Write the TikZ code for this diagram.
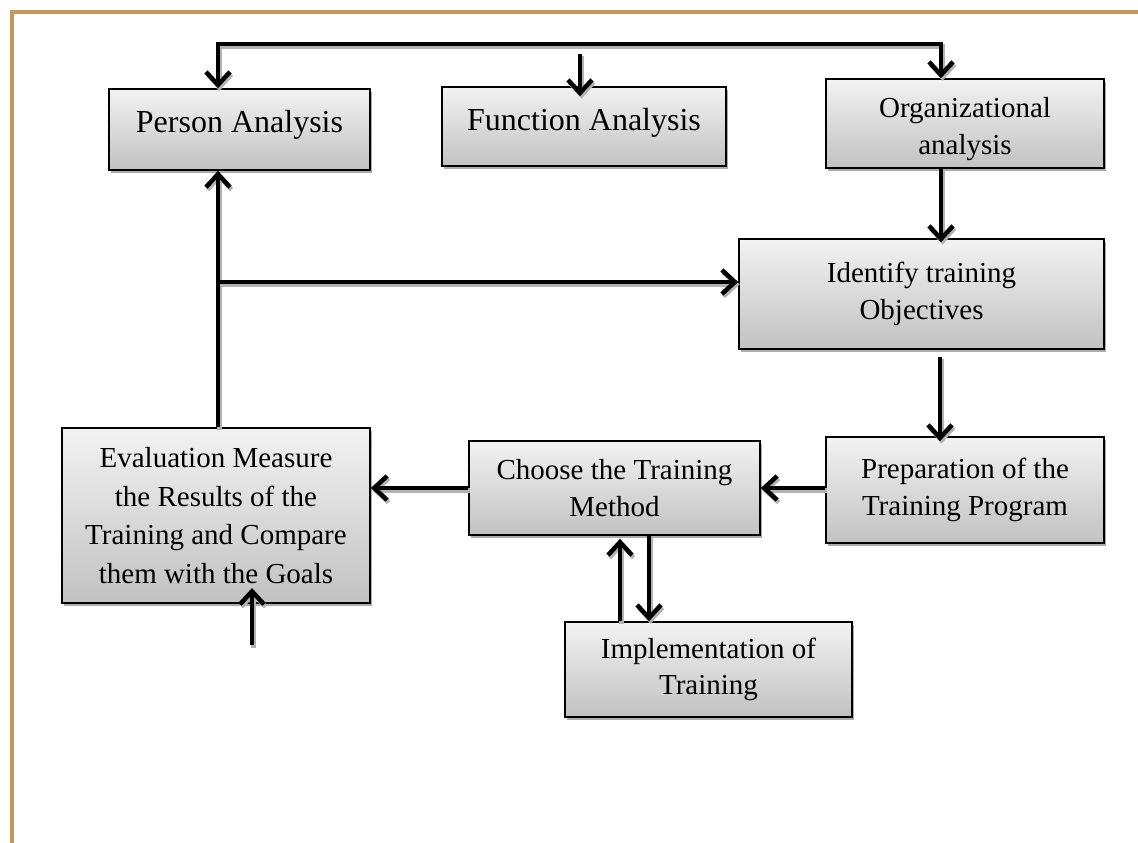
\documentclass[tikz,border=0pt]{standalone}
\usepackage{fontspec}
\setmainfont{Liberation Serif}
\usetikzlibrary{arrows.meta,shadows}
\definecolor{tanb}{RGB}{196,151,92}
\newcommand{\myconnectors}{%
\draw[conn] (tl) -- (tr) -- (tr |- org.north);
\draw[conn] (tr) -- (tl) -- (tl |- pers.north);
\draw[conn] (fa) -- ([yshift=-10pt]fa |- func.north);
\draw[conn] (tr |- org.south) -- ([yshift=-4pt]tr |- iden.north);
\draw[conn] (lv |- eval.north) -- (lv |- pers.south);
\draw[conn] (lv) -- (lv -| iden.west);
\draw[conn] ([yshift=-7pt]px |- iden.south) -- ([yshift=-5pt]px |- prep.north);
\draw[conn] (prep.west |- hy) -- (choose.east |- hy);
\draw[conn] (choose.west |- hy) -- (eval.east |- hy);
\draw[conn] (ux |- impl.north) -- ([yshift=-3pt]ux |- choose.south);
\draw[conn] (dx |- choose.south) -- (dx |- impl.north);
\draw[conn] (eb) -- (ebt);}
\begin{document}
\begin{tikzpicture}[x=1pt,y=-1pt,
  box/.style={draw=black, line width=1.6pt, top color=gray!10, bottom color=gray!48,
    align=center, inner sep=0pt, font=\fontsize{29}{36.5}\selectfont,
    drop shadow={shadow xshift=1.5pt, shadow yshift=-3pt, fill=gray!65, opacity=1}},
  bigbox/.style={box, font=\fontsize{32}{38}\selectfont},
  conn/.style={line width=4.5pt, -{Straight Barb[length=13pt,width=24pt,line width=4.5pt]}},
]
\useasboundingbox (0,0) rectangle (1138,843);
\fill[white] (0,0) rectangle (1138,843);
\draw[tanb, line width=3.5pt] (12,843) -- (12,12) -- (1138,12);

\coordinate (tl) at (218,44);
\coordinate (tr) at (941,44);
\coordinate (fa) at (580,54);
\coordinate (lv) at (218,282);
\coordinate (hy) at (0,488);
\coordinate (ux) at (620,0);
\coordinate (dx) at (649,0);
\coordinate (px) at (940,0);
\coordinate (eb) at (252,645);
\coordinate (ebt) at (252,588);

\node[bigbox, minimum width=261pt, minimum height=81pt, text depth=17pt] (pers) at (239.5,129.5) {Person Analysis};
\node[bigbox, minimum width=284pt, minimum height=79pt, text depth=15pt] (func) at (584,126.5) {Function Analysis};
\node[box, minimum width=278pt, minimum height=89pt] (org) at (965,123.5) {\raisebox{-5pt}[\height][\depth]{\begin{tabular}{@{}c@{}}Organizational\\analysis\end{tabular}}};
\node[box, minimum width=365pt, minimum height=110pt] (iden) at (921.5,294) {Identify training\\Objectives};
\node[box, minimum width=278pt, minimum height=106pt] (prep) at (965,490) {Preparation of the\\Training Program};
\node[box, minimum width=291pt, minimum height=94pt] (choose) at (614.5,488) {Choose the Training\\Method};
\node[box, minimum width=287pt, minimum height=95pt] (impl) at (708.5,669.5) {Implementation of\\Training};
\node[box, minimum width=308pt, minimum height=175pt, font=\fontsize{29}{38.5}\selectfont] (eval) at (216,515.5) {Evaluation Measure\\the Results of the\\Training and Compare\\them with the Goals};

\begin{scope}[transform canvas={xshift=1.5pt,yshift=-2.5pt}, conn/.append style={draw=gray!60}]
\myconnectors
\end{scope}
\myconnectors
\end{tikzpicture}
\end{document}
